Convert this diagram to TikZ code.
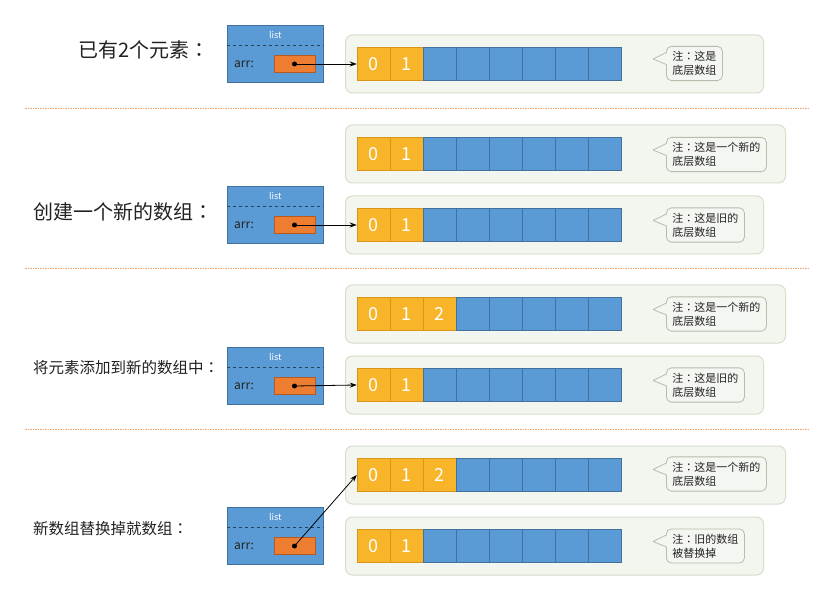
\documentclass[tikz,border=0pt]{standalone}
\usepackage{fontspec}
\setmainfont{Noto Sans CJK SC}
\newfontfamily\tcfont{Noto Sans CJK TC}
\newcommand\colonc{{\tcfont ：}}
\usetikzlibrary{calc,arrows.meta}
\definecolor{cblue}{HTML}{5B9BD5}
\definecolor{cblueb}{HTML}{41719C}
\definecolor{cyel}{HTML}{F9B52A}
\definecolor{cyelb}{HTML}{D9961A}
\definecolor{corange}{HTML}{ED7D31}
\definecolor{corangeb}{HTML}{B85A1E}
\definecolor{contfill}{HTML}{F3F6EF}
\definecolor{contdraw}{HTML}{D5DFCB}
\definecolor{callfill}{HTML}{F4F6F1}
\definecolor{calldraw}{HTML}{B5BEAD}
\definecolor{sepcol}{HTML}{F2A36B}
\definecolor{txt}{HTML}{222222}
\tikzset{
 x=1pt,y=-1pt,
 cont/.style={draw=contdraw, fill=contfill, rounded corners=7pt, line width=1pt, minimum height=58pt, inner sep=0pt, anchor=west},
 bcell/.style={draw=cblueb, fill=cblue, minimum width=33pt, minimum height=33pt, inner sep=0pt, line width=0.5pt},
 ycell/.style={bcell, draw=cyelb, fill=cyel, text=white, font=\fontsize{18}{18}\selectfont},
 callbody/.style={draw=calldraw, fill=callfill, rounded corners=5pt, line width=0.8pt, anchor=west, align=left, inner xsep=6pt, inner ysep=5pt, font=\fontsize{11}{14}\selectfont, text=txt},
 listbox/.style={draw=cblueb, fill=cblue, minimum width=96pt, minimum height=57pt, inner sep=0pt, anchor=north west, line width=0.6pt},
 ptr/.style={draw=corangeb, fill=corange, minimum width=41pt, minimum height=17pt, inner sep=0pt, line width=0.5pt},
 dotnode/.style={circle, fill=black, inner sep=0pt, minimum size=5pt},
 sepline/.style={draw=sepcol, dash pattern=on 1.5pt off 1pt, line width=0.8pt},
 arrowln/.style={-{Stealth[length=7pt,width=5pt]}, line width=0.8pt, black},
 lbl/.style={anchor=west, text=txt, inner sep=0pt},
}
\newcommand\mkarray[4]{%
  \node[cont, minimum width=#4pt] (#1c) at (345,#2) {};
  \foreach \i in {0,...,7}{%
    \ifnum\i<#3\relax
      \node[ycell] (#1\i) at ({373.5+33*\i},#2) {\i};
    \else
      \node[bcell] (#1\i) at ({373.5+33*\i},#2) {};
    \fi
  }%
}
\newcommand\mkcall[3]{%
  \node[callbody] (#1) at (666,#2) {#3};
  \fill[callfill] ($(#1.west)+(1.3,-11)$) -- ($(#1.west)+(-13,-4.5)$) -- ($(#1.west)+(1.3,1)$) -- cycle;
  \draw[calldraw, line width=0.8pt, line join=round] ($(#1.west)+(0.4,-11)$) -- ($(#1.west)+(-13,-4.5)$) -- ($(#1.west)+(0.4,1)$);
}
\newcommand\mklist[2]{%
  \node[listbox] (#1) at (227,#2) {};
  \draw[cblueb!60!black, dashed, line width=0.5pt] ($(#1.north west)+(0,20)$) -- ($(#1.north east)+(0,20)$);
  \node[white, font=\fontsize{9}{9}\selectfont] (#1t) at ($(#1.north)+(0,10)$) {list};
  \node[lbl, font=\fontsize{12}{12}\selectfont] (#1a) at ($(#1.north west)+(7,39)$) {arr:};
  \node[ptr] (#1p) at ($(#1.north west)+(67.5,39)$) {};
  \node[dotnode] (#1d) at (#1p) {};
}
\begin{document}
\begin{tikzpicture}
\useasboundingbox[fill=white] (0,0) rectangle (829,593);
% separators
\draw[sepline] (25,108) -- (808,108);
\draw[sepline] (25,268) -- (808,268);
\draw[sepline] (25,429) -- (808,429);
% row 1
\node[lbl, font=\fontsize{20}{20}\selectfont] (t1) at (78,50) {已有2个元素\colonc};
\mklist{la}{25}
\mkarray{A}{64}{2}{418}
\mkcall{ca}{63.5}{注\colonc 这是\\底层数组}
\draw[arrowln] (lad.center) -- (A0.west);
% row 2
\node[lbl, font=\fontsize{20}{20}\selectfont] (t2) at (33,212) {创建一个新的数组\colonc};
\mklist{lb}{186}
\mkarray{B}{154}{2}{440}
\mkcall{cb}{154.5}{注\colonc 这是一个新的\\底层数组}
\mkarray{C}{225}{2}{418}
\mkcall{cc}{225}{注\colonc 这是旧的\\底层数组}
\draw[arrowln] (lbd.center) -- (C0.west);
% row 3
\node[lbl, font=\fontsize{15.5}{15.5}\selectfont] (t3) at (33,368) {将元素添加到新的数组中\colonc};
\mklist{lc}{347}
\mkarray{D}{314}{3}{440}
\mkcall{cd}{314}{注\colonc 这是一个新的\\底层数组}
\mkarray{E}{385}{2}{418}
\mkcall{ce}{385}{注\colonc 这是旧的\\底层数组}
\draw[arrowln] (lcd.center) -- (E0.west);
% row 4
\node[lbl, font=\fontsize{15.5}{15.5}\selectfont] (t4) at (33,529) {新数组替换掉就数组\colonc};
\mklist{ld}{507}
\mkarray{F}{475}{3}{440}
\mkcall{cf}{474}{注\colonc 这是一个新的\\底层数组}
\mkarray{G}{546}{2}{418}
\mkcall{cg}{546}{注\colonc 旧的数组\\被替换掉}
\draw[arrowln] (ldd.center) -- (F0.west);
\end{tikzpicture}
\end{document}
